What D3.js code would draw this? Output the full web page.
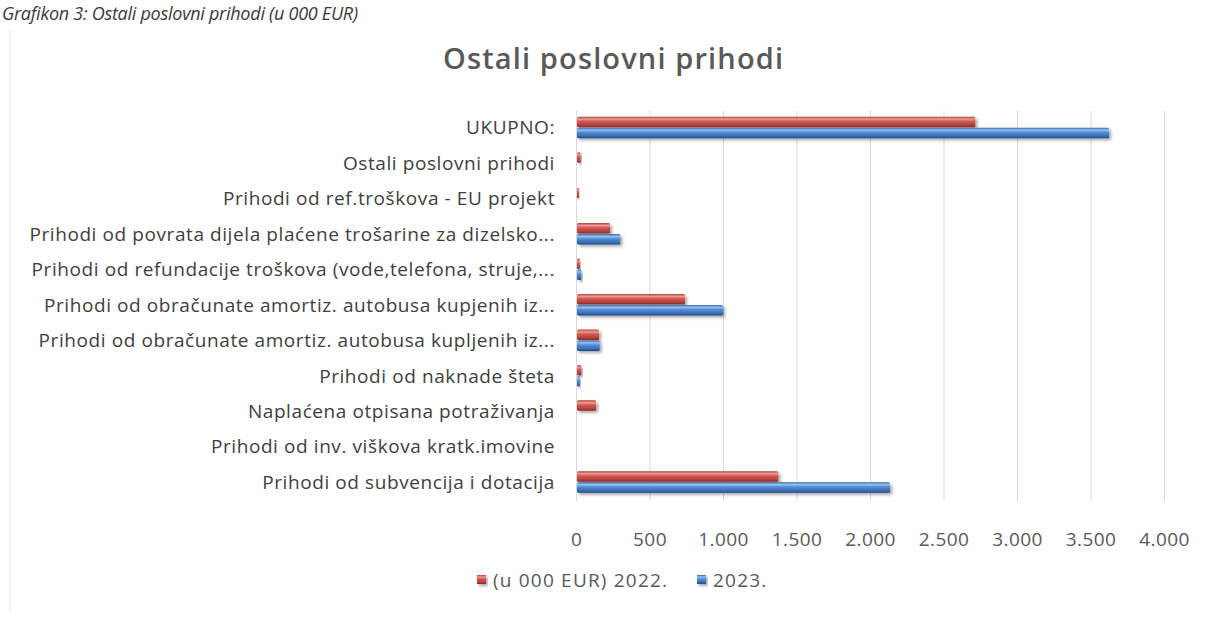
<!DOCTYPE html>
<html>
<head>
<meta charset="utf-8">
<script src="https://cdn.jsdelivr.net/npm/d3@7"></script>
<style>
  body { margin: 0; background: #fff; }
  svg { display: block; font-family: "Open Sans", sans-serif; }
</style>
</head>
<body>
<svg id="chart" width="1213" height="617"></svg>
<script>
// categories top to bottom, as in the picture
let categories = [
    "UKUPNO:",
    "Ostali poslovni prihodi",
    "Prihodi od ref.troškova - EU projekt",
    "Prihodi od povrata dijela plaćene trošarine za dizelsko...",
    "Prihodi od refundacije troškova (vode,telefona, struje,...",
    "Prihodi od obračunate amortiz. autobusa kupjenih iz...",
    "Prihodi od obračunate amortiz. autobusa kupljenih iz...",
    "Prihodi od naknade šteta",
    "Naplaćena otpisana potraživanja",
    "Prihodi od inv. viškova kratk.imovine",
    "Prihodi od subvencija i dotacija"
];
let values2022 = [2710, 25, 10, 225, 20, 735, 150, 30, 130, 0, 1370];
let values2023 = [3620, 0, 0, 295, 30, 993, 155, 20, 0, 0, 2130];
let seriesNames = ["(u 000 EUR) 2022.", "2023."];
let tickValues = [0, 500, 1000, 1500, 2000, 2500, 3000, 3500, 4000];

let svg = d3.select('#chart');
let defs = svg.append('defs');

// cylinder-ish gradients like the excel bars
function addGradient(id, stops){
    let g = defs.append('linearGradient').attr('id', id)
        .attr('x1', 0).attr('y1', 0).attr('x2', 0).attr('y2', 1);
    stops.forEach(function(s){
        g.append('stop').attr('offset', s[0]).attr('stop-color', s[1]);
    });
}
addGradient('gradRed', [[0, '#b0403a'], [0.22, '#ee9a92'], [0.45, '#cc5a53'], [0.8, '#b53f3a'], [1, '#852824']]);
addGradient('gradBlue', [[0, '#336ab0'], [0.22, '#95c3f2'], [0.45, '#548bd0'], [0.8, '#386db5'], [1, '#1d4480']]);

let shadow = defs.append('filter').attr('id', 'shadow')
    .attr('x', '-10%').attr('y', '-50%').attr('width', '130%').attr('height', '250%');
shadow.append('feDropShadow').attr('dx', 2).attr('dy', 2).attr('stdDeviation', 1.5)
    .attr('flood-color', '#000').attr('flood-opacity', 0.35);

let fills = ['url(#gradRed)', 'url(#gradBlue)'];

// stretch a text sideways with letter spacing so it covers the given width
function fitWidth(sel, target){
    sel.each(function(){
        let n = this.textContent.length;
        let w = this.getComputedTextLength();
        if (n > 1) d3.select(this).style('letter-spacing', ((target - w) / (n - 1)) + 'px');
    });
}

// faint frame of the scanned chart
svg.append('line').attr('x1', 10).attr('x2', 10).attr('y1', 30).attr('y2', 612)
    .attr('stroke', '#e6e6e6').attr('stroke-width', 1);

// caption of the page above the chart
svg.append('text')
    .attr('x', 2).attr('y', 20)
    .style('font-style', 'italic')
    .style('font-size', '18px')
    .attr('fill', '#3a3a3a')
    .text('Grafikon 3: Ostali poslovni prihodi (u 000 EUR)')
    .call(fitWidth, 356);

svg.append('text')
    .attr('x', 443).attr('y', 69)
    .style('font-size', '29px')
    .style('font-weight', 600)
    .attr('fill', '#595959')
    .text('Ostali poslovni prihodi')
    .call(fitWidth, 340);

let x = d3.scaleLinear().domain([0, 4000]).range([576, 1164]);
let y = d3.scaleBand().domain(categories).range([110, 500])
    .paddingInner(0.38).paddingOuter(0.19);
let ySub = d3.scaleBand().domain(seriesNames).range([0, y.bandwidth()]);

// grid
svg.append('g').selectAll('line')
    .data(tickValues)
    .enter()
    .append('line')
    .attr('x1', function(d){ return x(d) + 0.5; })
    .attr('x2', function(d){ return x(d) + 0.5; })
    .attr('y1', 111).attr('y2', 501)
    .attr('stroke', '#d9d9d9')
    .attr('stroke-width', 1);

let rows = categories.map(function(c, i){
    return {cat: c, vals: [values2022[i], values2023[i]]};
});

let groups = svg.append('g').selectAll('g')
    .data(rows)
    .enter()
    .append('g')
    .attr('transform', function(d){ return 'translate(0,' + y(d.cat) + ')'; });

groups.selectAll('rect')
    .data(function(d){ return d.vals.map(function(v, k){ return {v: v, k: k}; }); })
    .enter()
    .filter(function(d){ return d.v > 0; })
    .append('rect')
    .attr('x', x(0) + 1)
    .attr('y', function(d){ return ySub(seriesNames[d.k]); })
    .attr('width', function(d){ return Math.max(2, x(d.v) - x(0)); })
    .attr('height', ySub.bandwidth() - 0.5)
    .attr('rx', 1.5)
    .attr('fill', function(d){ return fills[d.k]; })
    .attr('filter', 'url(#shadow)');

// category labels, longest one runs from x=30 to 555 in the picture
let labels = svg.append('g').selectAll('text')
    .data(categories)
    .enter()
    .append('text')
    .attr('x', 555)
    .attr('y', function(d){ return y(d) + y.bandwidth() / 2; })
    .attr('dy', '0.35em')
    .attr('text-anchor', 'end')
    .style('font-size', '19px')
    .attr('fill', '#404040')
    .text(function(d){ return d; });
let longest = labels.filter(function(d, i){ return i === 3; }).node();
let spacing = (525 - longest.getComputedTextLength()) / (longest.textContent.length - 1);
labels.style('letter-spacing', spacing + 'px');

// x axis labels
let fmt = d3.formatLocale({decimal: ',', thousands: '.', grouping: [3], currency: ['', '']}).format(',');
let axis = d3.axisBottom(x).tickValues(tickValues).tickSize(0).tickPadding(33).tickFormat(fmt);
let gx = svg.append('g').attr('transform', 'translate(0,500)').call(axis);
gx.select('.domain').remove();
gx.selectAll('text')
    .style('font-family', '"Open Sans", sans-serif')
    .style('font-size', '19px')
    .style('letter-spacing', '0.4px')
    .attr('fill', '#595959');

// legend
let legendPos = [477, 697];
let legend = svg.append('g').selectAll('g')
    .data(seriesNames)
    .enter()
    .append('g')
    .attr('transform', function(d, i){ return 'translate(' + legendPos[i] + ',575)'; });
legend.append('rect')
    .attr('width', 9).attr('height', 9)
    .attr('fill', function(d, i){ return fills[i]; })
    .attr('filter', 'url(#shadow)');
legend.append('text')
    .attr('x', 16).attr('y', 5)
    .attr('dy', '0.35em')
    .style('font-size', '19px')
    .style('letter-spacing', '1.2px')
    .attr('fill', '#595959')
    .text(function(d){ return d; });
</script>
</body>
</html>
